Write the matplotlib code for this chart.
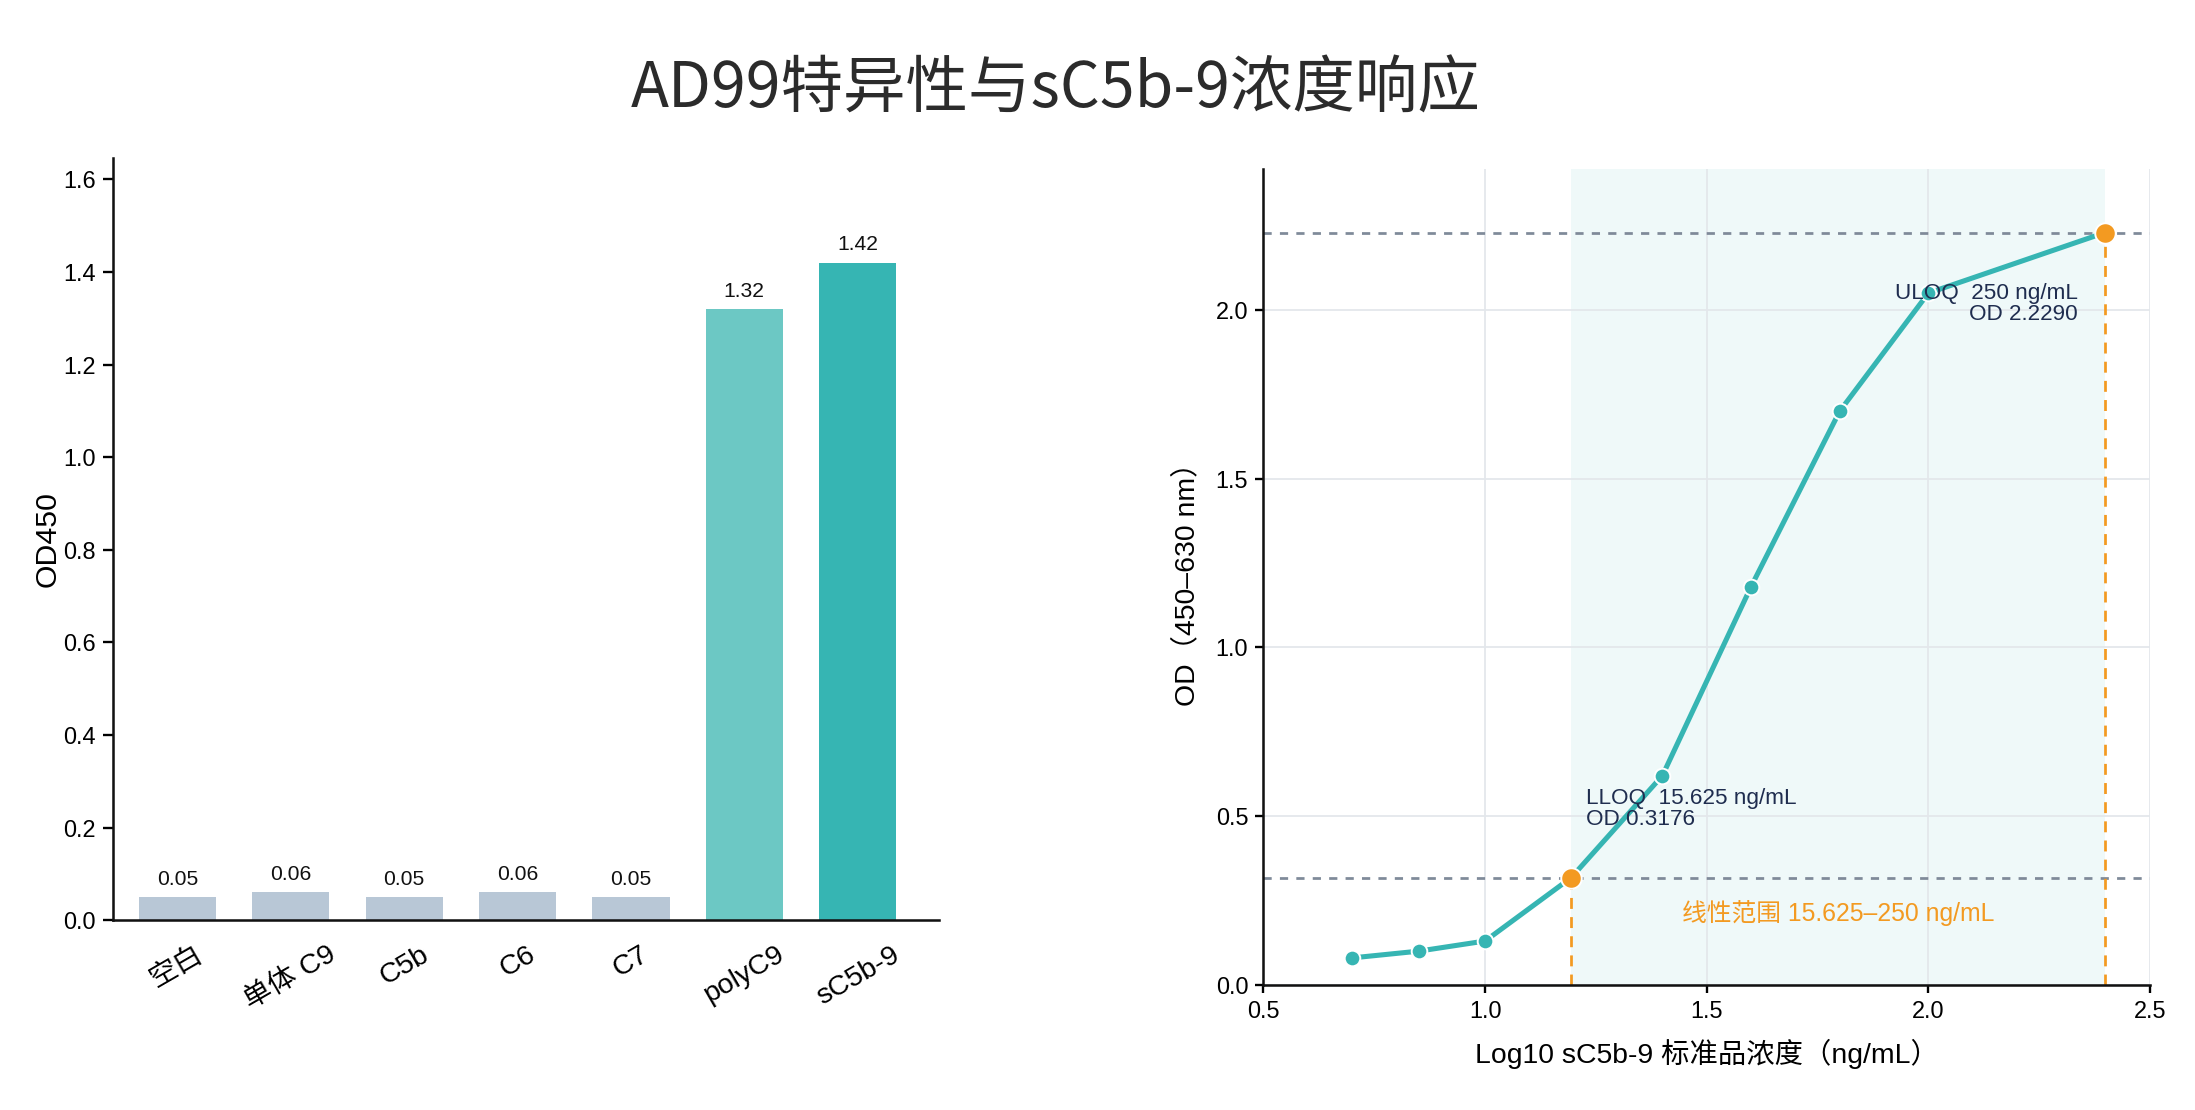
import matplotlib
matplotlib.use("Agg")
import matplotlib.pyplot as plt
import numpy as np

plt.rcParams['font.family'] = ['Liberation Sans', 'Noto Sans CJK SC', 'DejaVu Sans']
plt.rcParams['axes.unicode_minus'] = False

# ---- data ----
categories = ['空白', '单体 C9', 'C5b', 'C6', 'C7', 'polyC9', 'sC5b-9']
od450 = [0.05, 0.06, 0.05, 0.06, 0.05, 1.32, 1.42]
bar_colors = ['#b8c7d6', '#b8c7d6', '#b8c7d6', '#b8c7d6', '#b8c7d6', '#6cc8c4', '#36b5b3']

log_conc = [0.70, 0.85, 1.00, 1.194, 1.40, 1.60, 1.80, 2.00, 2.398]
od_curve = [0.08, 0.10, 0.13, 0.3176, 0.62, 1.18, 1.70, 2.05, 2.229]
lloq_x, lloq_y = 1.194, 0.3176
uloq_x, uloq_y = 2.398, 2.229

teal = '#36b5b3'
orange = '#f39a21'
navy = '#1f2d4f'
dash_gray = '#7f8a99'

DPI = 140.7
fig = plt.figure(figsize=(2195 / DPI, 1110 / DPI), dpi=DPI)

fig.text(0.481, 0.919, 'AD99特异性与sC5b-9浓度响应', ha='center', va='center',
         fontsize=32, color='#2b2b2b', family=['Noto Sans CJK SC'])

# ---- left: bar chart ----
ax1 = fig.add_axes([0.0513, 0.171, 0.3767, 0.687])
x = np.arange(len(categories))
ax1.bar(x, od450, width=0.68, color=bar_colors)
for xi, v in zip(x, od450):
    ax1.text(xi, v + 0.018, f'{v:.2f}', ha='center', va='bottom', fontsize=10.8, color='#111111')
ax1.set_xlim(-0.57, 6.72)
ax1.set_ylim(0, max(od450) * 1.16)
ax1.set_yticks(np.arange(0, 1.61, 0.2))
ax1.set_yticklabels([f'{t:.1f}' for t in np.arange(0, 1.61, 0.2)])
ax1.set_xticks(x)
ax1.set_xticklabels(categories, rotation=30, ha='center', fontsize=14.5)
ax1.tick_params(axis='x', length=0, pad=11)
ax1.tick_params(axis='y', length=5, width=1.2, labelsize=12)
ax1.set_ylabel('OD450', fontsize=15.5, labelpad=1)
for s in ['top', 'right']:
    ax1.spines[s].set_visible(False)
for s in ['left', 'bottom']:
    ax1.spines[s].set_linewidth(1.3)
    ax1.spines[s].set_color('#111111')

# ---- right: standard curve ----
ax2 = fig.add_axes([0.5756, 0.1127, 0.4039, 0.7353])
ax2.set_xlim(0.5, 2.5)
ax2.set_ylim(0, uloq_y * 1.085)
ax2.grid(True, color='#e3e7eb', linewidth=0.9)
ax2.set_axisbelow(True)
ax2.axvspan(lloq_x, uloq_x, color=teal, alpha=0.08, lw=0, zorder=0)
ax2.axhline(lloq_y, color=dash_gray, ls=(0, (3, 3)), lw=1.4, zorder=1)
ax2.axhline(uloq_y, color=dash_gray, ls=(0, (3, 3)), lw=1.4, zorder=1)
ax2.vlines([lloq_x, uloq_x], 0, [lloq_y, uloq_y], colors=orange, linestyles=(0, (4, 3)), lw=1.4, zorder=1)
ax2.plot(log_conc, od_curve, color=teal, lw=2.6, marker='o', markersize=8,
         markerfacecolor=teal, markeredgecolor='white', markeredgewidth=1.0, zorder=3)
ax2.plot([lloq_x, uloq_x], [lloq_y, uloq_y], ls='none', marker='o', markersize=10.5,
         markerfacecolor=orange, markeredgecolor='white', markeredgewidth=1.0, zorder=4)

ax2.text(lloq_x + 0.034, lloq_y + 0.14, f'LLOQ  15.625 ng/mL\nOD {lloq_y:.4f}',
         ha='left', va='bottom', fontsize=11.5, color=navy, linespacing=1.0)
ax2.text(uloq_x - 0.06, uloq_y - 0.15, f'ULOQ  250 ng/mL\nOD {uloq_y:.4f}',
         ha='right', va='top', fontsize=11.5, color=navy, linespacing=1.0, multialignment='right')
ax2.text((lloq_x + uloq_x) / 2, lloq_y * 0.67, '线性范围 15.625–250 ng/mL',
         ha='center', va='center', fontsize=12.7, color=orange)

ax2.set_xticks([0.5, 1.0, 1.5, 2.0, 2.5])
ax2.set_yticks([0.0, 0.5, 1.0, 1.5, 2.0])
ax2.tick_params(axis='both', length=4.3, width=1.2, labelsize=12)
ax2.set_xlabel('Log10 sC5b-9 标准品浓度（ng/mL）', fontsize=14.5, labelpad=8)
ax2.set_ylabel('OD（450–630 nm）', fontsize=14.5, labelpad=8)
for s in ['top', 'right']:
    ax2.spines[s].set_visible(False)
for s in ['left', 'bottom']:
    ax2.spines[s].set_linewidth(1.3)
    ax2.spines[s].set_color('#111111')

fig.savefig('out.png', dpi=DPI)
